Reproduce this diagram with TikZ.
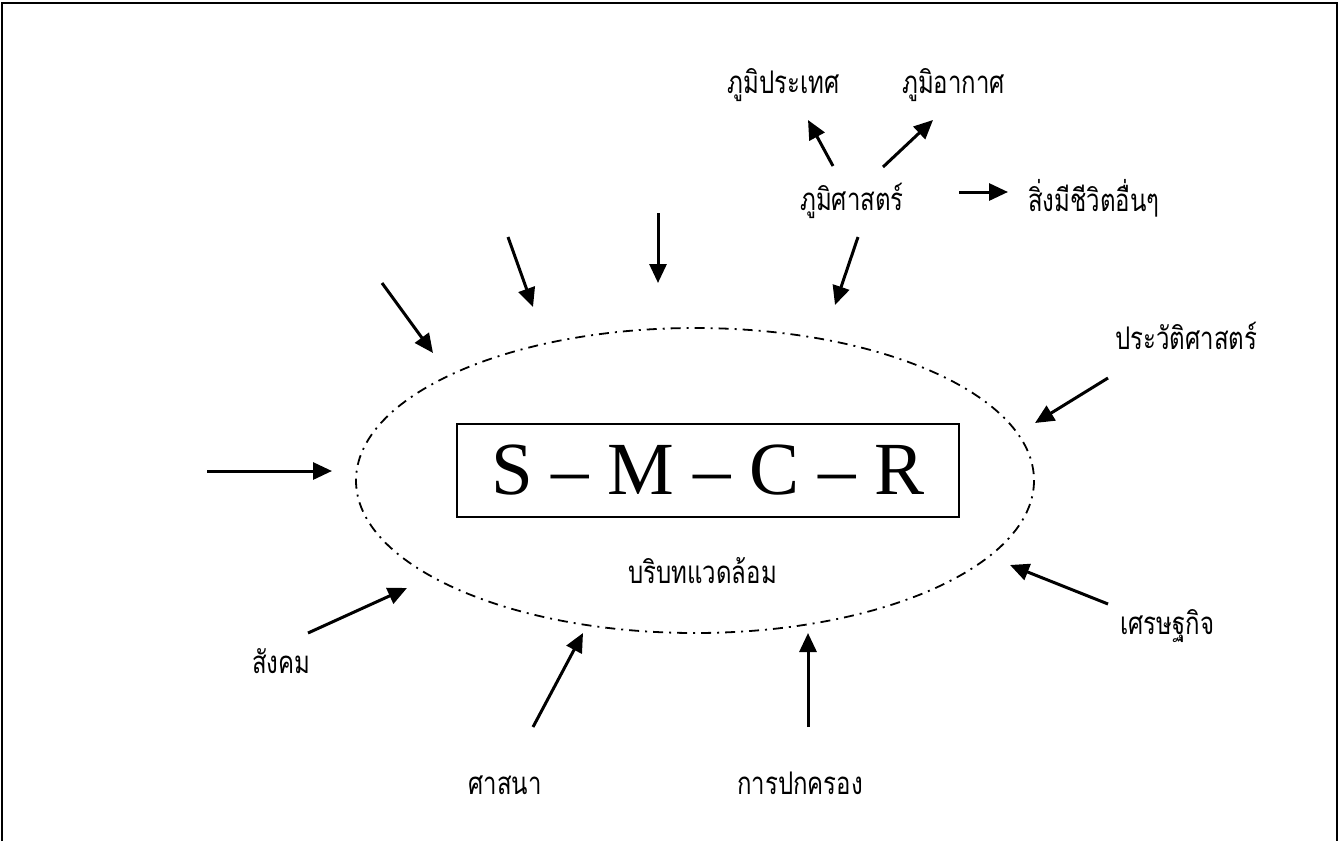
\documentclass[tikz,border=0pt]{standalone}
\usepackage{fontspec}
\usepackage{graphicx}
\usepackage{tikz}
\usetikzlibrary{arrows.meta}
\setmainfont{Liberation Serif}
\newfontfamily\thaifont[Script=Thai]{Loma}
\newcommand{\tallthai}[1]{\scalebox{1}[1.3]{#1}}

\begin{document}
\begin{tikzpicture}[x=1pt, y=-1pt,
  ctxarrow/.style={line width=3pt, -{Triangle[length=19pt, width=17pt]}},
  thailabel/.style={inner sep=0pt, font=\thaifont\fontsize{24}{28}\selectfont},
  envline/.style={line width=1.8pt, dash pattern=on 10pt off 6pt on 2pt off 6pt}]
\useasboundingbox (0,0) rectangle (1340,841);
\draw [line width=2pt] (2,841) -- (2,3) -- (1337,3) -- (1337,841);
% context ellipse and the model
\draw [envline] (695,480.5) ellipse [x radius=339, y radius=152.5];
\node (smcr) [draw, line width=2pt, minimum width=502pt, minimum height=93pt, inner sep=0pt,
  font=\fontsize{75}{80}\selectfont] at (708,470.5) {S -- M -- C -- R};
\node (context) [thailabel, anchor=base west] at (628,583) {\tallthai{บริบทแวดล้อม}};
% labels
\node (terrain) [thailabel, anchor=base east] at (840,93) {\tallthai{ภูมิประเทศ}};
\node (climate) [thailabel, anchor=base west] at (902,93) {\tallthai{ภูมิอากาศ}};
\node (geo) [thailabel, anchor=base west] at (800,210) {\tallthai{ภูมิศาสตร์}};
\node (living) [thailabel, anchor=base west] at (1028,211) {\tallthai{สิ่งมีชีวิตอื่นๆ}};
\node (history) [thailabel, anchor=base west] at (1115,349) {\tallthai{ประวัติศาสตร์}};
\node (economy) [thailabel, anchor=base west] at (1120,634) {\tallthai{เศรษฐกิจ}};
\node (govern) [thailabel, anchor=base west] at (737,794) {\tallthai{การปกครอง}};
\node (religion) [thailabel, anchor=base east] at (542,794) {\tallthai{ศาสนา}};
\node (society) [thailabel, anchor=base west] at (252,673) {\tallthai{สังคม}};
% arrow ends
\coordinate (geoT1) at (833,166);  \coordinate (geoH1) at (808,120);
\coordinate (geoT2) at (883,167);  \coordinate (geoH2) at (933,120);
\coordinate (geoT3) at (959,192);  \coordinate (geoH3) at (1008,192);
\coordinate (geoT4) at (858,237);  \coordinate (geoH4) at (835,305);
\coordinate (topT1) at (658,213);  \coordinate (topH1) at (658,283);
\coordinate (topT2) at (508,237);  \coordinate (topH2) at (533,307);
\coordinate (topT3) at (382,283);  \coordinate (topH3) at (433,353);
\coordinate (leftT) at (207,471);  \coordinate (leftH) at (332,471);
\coordinate (socT) at (308,633);   \coordinate (socH) at (407,588);
\coordinate (relT) at (533,727);   \coordinate (relH) at (583,633);
\coordinate (govT) at (808,727);   \coordinate (govH) at (808,633);
\coordinate (ecoT) at (1108,604);  \coordinate (ecoH) at (1010,565);
\coordinate (hisT) at (1108,378);  \coordinate (hisH) at (1035,423);
\draw [ctxarrow] (geoT1) -- (geoH1);
\draw [ctxarrow] (geoT2) -- (geoH2);
\draw [ctxarrow] (geoT3) -- (geoH3);
\draw [ctxarrow] (geoT4) -- (geoH4);
\draw [ctxarrow] (topT1) -- (topH1);
\draw [ctxarrow] (topT2) -- (topH2);
\draw [ctxarrow] (topT3) -- (topH3);
\draw [ctxarrow] (leftT) -- (leftH);
\draw [ctxarrow] (socT) -- (socH);
\draw [ctxarrow] (relT) -- (relH);
\draw [ctxarrow] (govT) -- (govH);
\draw [ctxarrow] (ecoT) -- (ecoH);
\draw [ctxarrow] (hisT) -- (hisH);
\end{tikzpicture}
\end{document}
